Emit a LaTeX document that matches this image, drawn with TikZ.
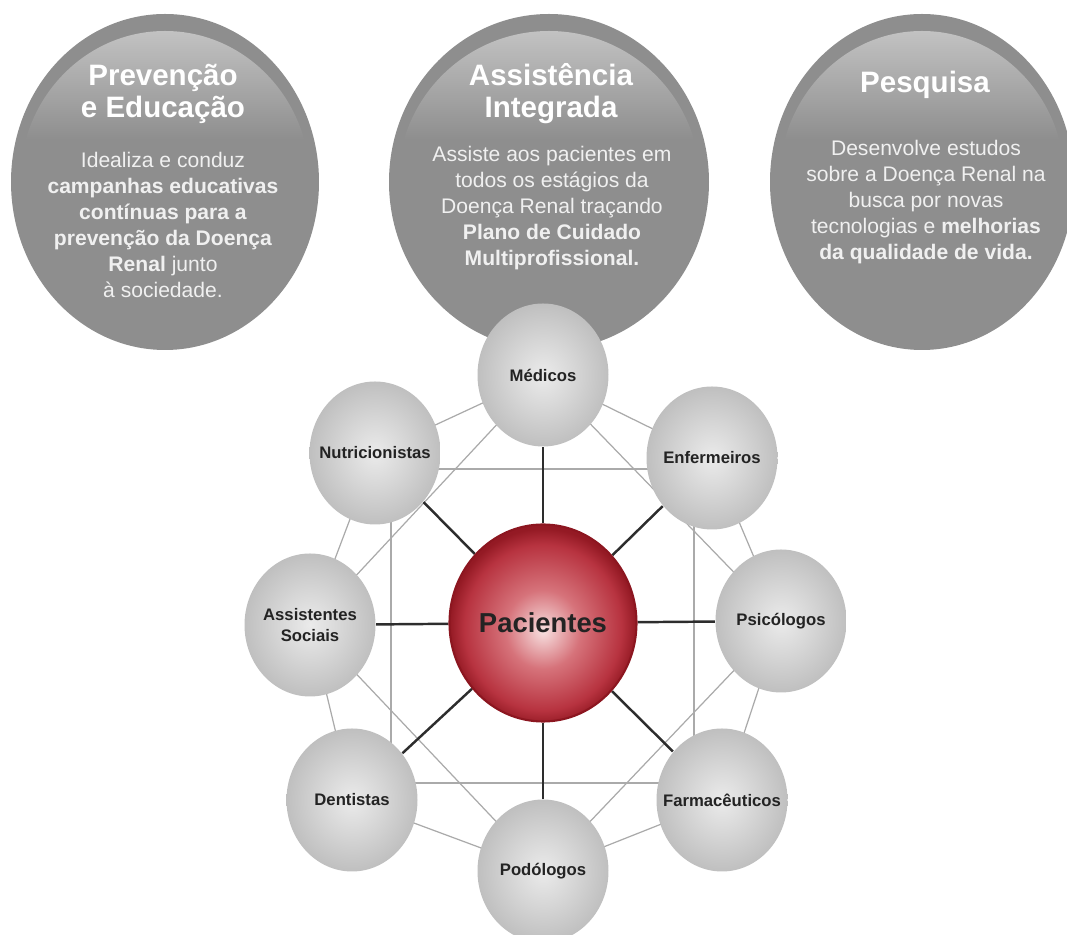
\documentclass[tikz,border=0pt]{standalone}
\usepackage{fontspec}
\setmainfont{Liberation Sans}
\usetikzlibrary{shapes.geometric,backgrounds}

\definecolor{discgray}{RGB}{142,142,142}
\definecolor{glossgray}{RGB}{194,194,194}
\definecolor{linkgray}{RGB}{170,170,170}
\definecolor{spokegray}{RGB}{45,45,45}
\definecolor{pacred}{RGB}{140,22,32}
\definecolor{labeldark}{RGB}{35,35,35}

\pgfdeclareradialshading{satglow}{\pgfpoint{0bp}{0bp}}{rgb(0bp)=(0.92,0.92,0.92); rgb(12bp)=(0.84,0.84,0.84); rgb(25bp)=(0.75,0.75,0.75); rgb(50bp)=(0.75,0.75,0.75)}
\pgfdeclareradialshading{pacglow}{\pgfpoint{0bp}{-2bp}}{rgb(0bp)=(0.97,0.88,0.88); rgb(10bp)=(0.84,0.45,0.48); rgb(21bp)=(0.72,0.20,0.25); rgb(25bp)=(0.58,0.10,0.14); rgb(50bp)=(0.58,0.10,0.14)}

\tikzset{
  sat/.style={ellipse, minimum width=1.31cm, minimum height=1.43cm,
    inner xsep=-0.25cm, inner ysep=0pt,
    shade, shading=satglow, text=labeldark, align=center,
    font=\fontsize{4.75}{5.8}\selectfont\bfseries},
  pac/.style={ellipse, minimum width=1.87cm, minimum height=1.97cm,
    inner xsep=-0.1cm, inner ysep=0pt,
    shade, shading=pacglow, draw=pacred, line width=0.6pt, text=labeldark,
    font=\fontsize{7.8}{9}\selectfont\bfseries},
  disctitle/.style={align=center, inner sep=0pt, text=white,
    font=\fontsize{8.4}{9.1}\selectfont\bfseries},
  disctext/.style={align=center, inner sep=0pt, text=white!94!black,
    font=\fontsize{6}{7.35}\selectfont},
  link/.style={draw=linkgray, line width=0.35pt},
  spoke/.style={draw=spokegray, line width=0.7pt}
}

\begin{document}
\begin{tikzpicture}
  \useasboundingbox (0,0) rectangle (10.67,9.35);
  \clip (0,0) rectangle (10.67,9.35);

  % the three discs on top
  \foreach \cx/\rx in {1.65/1.54, 5.49/1.60, 9.22/1.52} {
    \fill[discgray] (\cx,7.53) ellipse ({\rx} and 1.68);
    \begin{scope}
      \clip (\cx,7.53) ellipse ({\rx-0.09} and 1.51);
      \shade[top color=glossgray, bottom color=discgray]
        (\cx-\rx,9.04) rectangle (\cx+\rx,7.95);
    \end{scope}
  }

  \node[disctitle] (prevtit) at (1.63,8.41) {Prevenção\\e Educação};
  \node[disctext] (prevtxt) at (1.63,7.10) {Idealiza e conduz\\
    \textbf{campanhas educativas}\\ \textbf{contínuas para a}\\
    \textbf{prevenção da Doença}\\ \textbf{Renal} junto\\ à sociedade.};
  \node[disctitle] (assisttit) at (5.51,8.41) {Assistência\\Integrada};
  \node[disctext] (assisttxt) at (5.52,7.27) {Assiste aos pacientes em\\
    todos os estágios da\\ Doença Renal traçando\\
    \textbf{Plano de Cuidado}\\ \textbf{Multiprofissional.}};
  \node[disctitle] (pesqtit) at (9.25,8.50) {Pesquisa};
  \node[disctext] (pesqtxt) at (9.26,7.33) {Desenvolve estudos\\
    sobre a Doença Renal na\\ busca por novas\\
    tecnologias e \textbf{melhorias}\\ \textbf{da qualidade de vida.}};

  % team round the patient
  \node[sat] (med) at (5.43,5.60) {Médicos};
  \node[sat] (enf) at (7.12,4.77) {Enfermeiros};
  \node[sat] (psi) at (7.81,3.14) {Psicólogos};
  \node[sat] (far) at (7.22,1.35) {Farmacêuticos};
  \node[sat] (pod) at (5.43,0.64) {Podólogos};
  \node[sat] (den) at (3.52,1.35) {Dentistas};
  \node[sat] (ass) at (3.10,3.10) {Assistentes\\Sociais};
  \node[sat] (nut) at (3.75,4.82) {Nutricionistas};
  \node[pac] (pac) at (5.43,3.12) {Pacientes};

  \coordinate (sqa) at (3.91,4.66);
  \coordinate (sqb) at (6.94,1.52);

  \begin{scope}[on background layer]
    \draw[link] (med.center) -- (enf.center) -- (psi.center) -- (far.center)
      -- (pod.center) -- (den.center) -- (ass.center) -- (nut.center) -- cycle;
    \draw[link] (med.center) -- (psi.center) -- (pod.center) -- (ass.center) -- cycle;
    \draw[link] (sqa) rectangle (sqb);
    \foreach \n in {med,enf,psi,far,pod,den,ass,nut}
      \draw[spoke] (pac) -- (\n);
  \end{scope}
\end{tikzpicture}
\end{document}
